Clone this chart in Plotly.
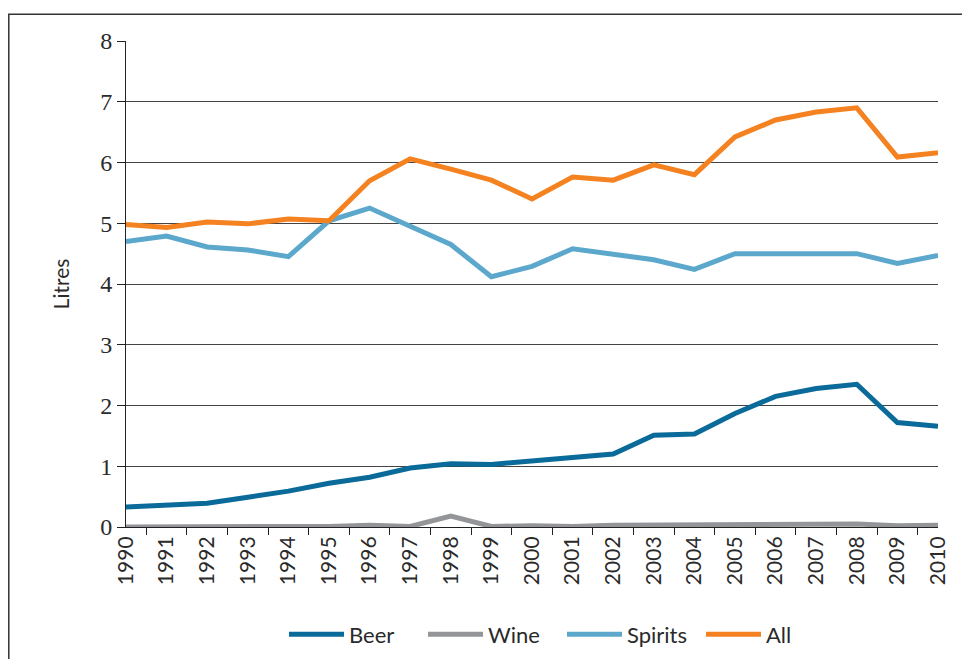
import plotly.graph_objects as go

years = [str(y) for y in range(1990, 2011)]
beer = [0.33, 0.35, 0.39, 0.49, 0.59, 0.72, 0.82, 0.97, 1.04, 1.03, 1.09, 1.16, 1.20, 1.51, 1.53, 1.87, 2.15, 2.28, 2.35, 1.72, 1.66]
wine = [0.0, 0.0, 0.0, 0.0, 0.02, 0.01, 0.03, 0.01, 0.18, 0.01, 0.02, 0.01, 0.03, 0.03, 0.04, 0.05, 0.05, 0.05, 0.05, 0.02, 0.03]
spirits = [4.70, 4.79, 4.61, 4.56, 4.45, 5.04, 5.25, 4.94, 4.65, 4.12, 4.29, 4.58, 4.50, 4.40, 4.24, 4.50, 4.50, 4.50, 4.50, 4.34, 4.47]
all_bev = [4.98, 4.93, 5.02, 4.99, 5.07, 5.04, 5.70, 6.06, 5.89, 5.71, 5.40, 5.76, 5.71, 5.96, 5.80, 6.42, 6.70, 6.83, 6.90, 6.09, 6.16]

series = [("Beer", beer, "#0a6a99"), ("Wine", wine, "#939598"),
          ("Spirits", spirits, "#5ba8cc"), ("All", all_bev, "#f58220")]

fig = go.Figure()
for name, vals, col in series:
    fig.add_trace(go.Scatter(x=years, y=vals, name=name, mode="lines",
                             line=dict(color=col, width=5)))

# page has an 8px body margin, so the figure is drawn 8px right/down
W, H = 970, 659
L, R, T, B = 118, 40, 33, 137
pw, ph = W - L - R, H - T - B

fig.update_layout(
    width=W, height=H,
    margin=dict(l=L, r=R, t=T, b=B),
    plot_bgcolor="white", paper_bgcolor="white",
    showlegend=True,
    legend=dict(orientation="h", x=(276 - L) / pw, xanchor="left",
                y=(H - B - 630) / ph, yanchor="middle",
                font=dict(family="Lato", size=22, color="#2a2a2a"),
                itemwidth=55, entrywidth=69, entrywidthmode="pixels",
                tracegroupgap=0),
    shapes=[dict(type="rect", xref="paper", yref="paper",
                 x0=(0.8 - L) / pw, x1=1.08, y0=-0.4, y1=(H - B - 6) / ph,
                 line=dict(color="#333", width=1.5), layer="below")],
)
fig.update_xaxes(type="category", showgrid=False, showline=True, linecolor="#222", linewidth=1,
                 ticks="outside", tickson="boundaries", ticklen=7, tickcolor="#222",
                 tickangle=-90, tickfont=dict(family="Lato", size=21, color="#2a2a2a"))
fig.update_yaxes(range=[0, 8], dtick=1, showgrid=True, gridcolor="#444", gridwidth=1,
                 showline=True, linecolor="#222", linewidth=1, zeroline=False,
                 ticks="outside", ticklen=8, tickcolor="#222",
                 tickfont=dict(family="Liberation Serif", size=24, color="#2a2a2a"),
                 title=dict(text="Litres", font=dict(family="Lato", size=21, color="#2a2a2a"), standoff=24))

fig.write_html("out.html")
